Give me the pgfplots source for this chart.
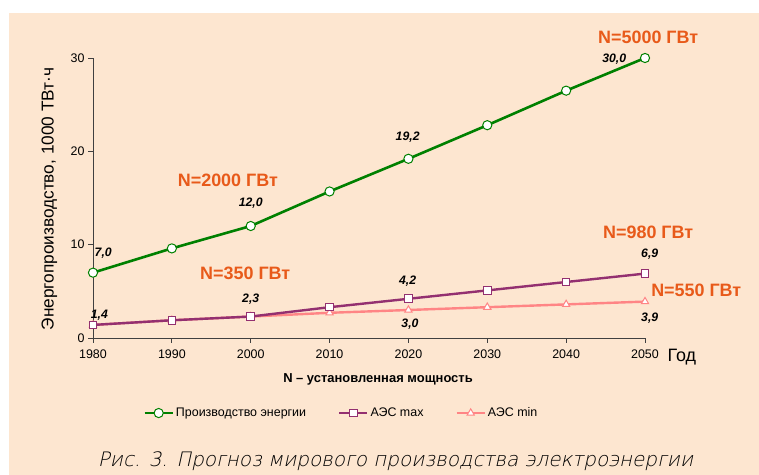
\documentclass[border=0pt]{standalone}
\usepackage{pgfplots}
\pgfplotsset{compat=1.18}
\usepackage{fontspec}
\setmainfont{Liberation Sans}
\newfontfamily\capfont[FakeSlant=0.22]{DejaVu Sans ExtraLight}

\definecolor{bg}{HTML}{FDE6D0}
\definecolor{cgreen}{HTML}{008000}
\definecolor{cpurple}{HTML}{933070}
\definecolor{cpink}{HTML}{FF8585}
\definecolor{corange}{HTML}{E85A1A}

\begin{document}
\begin{tikzpicture}[
        lbl/.style={font=\fontsize{12.3}{14}\selectfont\bfseries\itshape},
        olbl/.style={font=\fontsize{18}{20}\selectfont\bfseries, text=corange},
    ]
    \fill[white] (0,0) rectangle (759bp,475bp);
    \fill[bg] (9bp,0) rectangle (759bp,462bp);
    \path[use as bounding box] (0,0) rectangle (759bp,475bp);
    \begin{axis}[
            at={(93bp,137bp)}, anchor=south west,
            scale only axis,
            width=552bp, height=280bp,
            xmin=1980, xmax=2050,
            ymin=0, ymax=30,
            axis lines*=left,
            axis line style={draw=black!75, line width=0.9bp},
            tick style={draw=black!75, line width=0.8bp},
            tick align=outside,
            major tick length=5bp,
            xtick={1980,1990,...,2050},
            ytick={0,10,20,30},
            /pgf/number format/1000 sep={},
            /pgf/number format/assume math mode=true,
            tick label style={font=\fontsize{12.5}{14}\selectfont},
            x tick label style={yshift=-3bp},
            clip=false,
            legend columns=3,
            legend style={
                at={(0.45,-0.268)}, anchor=center,
                draw=none, fill=none,
                font=\fontsize{12.5}{14}\selectfont,
                /tikz/every even column/.append style={column sep=30bp},
            },
            legend image code/.code={
                \draw[mark repeat=2,mark phase=2,#1]
                plot coordinates {(0bp,0bp) (14bp,0bp) (28bp,0bp)};
            },
        ]
        \addplot[cgreen, line width=2.6bp, mark=*, mark size=4.6bp,
            mark options={fill=white, draw=cgreen, line width=1bp}] coordinates {
                (1980,7.0) (1990,9.6) (2000,12.0) (2010,15.7)
                (2020,19.2) (2030,22.8) (2040,26.5) (2050,30.0)
            };
        \addlegendentry{Производство энергии}
        \addplot[cpink, line width=2.4bp, mark=triangle*, mark size=4.2bp,
            mark options={fill=white, draw=cpink, line width=1bp}, forget plot] coordinates {
                (1980,1.4) (1990,1.9) (2000,2.3) (2010,2.7)
                (2020,3.0) (2030,3.3) (2040,3.6) (2050,3.9)
            };
        \addplot[cpurple, line width=2.4bp, mark=square*, mark size=3.8bp,
            mark options={fill=white, draw=cpurple, line width=1bp}] coordinates {
                (1980,1.4) (1990,1.9) (2000,2.3) (2010,3.3)
                (2020,4.2) (2030,5.1) (2040,6.0) (2050,6.9)
            };
        \addlegendentry{АЭС max}
        \addlegendimage{cpink, line width=2.4bp, mark=triangle*, mark size=4.2bp,
            mark options={fill=white, draw=cpink, line width=1bp}}
        \addlegendentry{АЭС min}

        \node[lbl] at (axis cs:1981.3,9.1) {7,0};
        \node[lbl] at (axis cs:1980.8,2.46) {1,4};
        \node[lbl] at (axis cs:2000,4.18) {2,3};
        \node[lbl] at (axis cs:2000,14.46) {12,0};
        \node[lbl] at (axis cs:2019.9,21.5) {19,2};
        \node[lbl] at (axis cs:2046.1,29.9) {30,0};
        \node[lbl] at (axis cs:2019.9,6.1) {4,2};
        \node[lbl] at (axis cs:2020.2,1.5) {3,0};
        \node[lbl] at (axis cs:2050.6,9.0) {6,9};
        \node[lbl] at (axis cs:2050.6,2.14) {3,9};

        \node[olbl] at (axis cs:2050.4,32.25) {N=5000 ГВт};
        \node[olbl] at (axis cs:1997.1,16.9) {N=2000 ГВт};
        \node[olbl] at (axis cs:1999.3,6.96) {N=350 ГВт};
        \node[olbl] at (axis cs:2050.4,11.36) {N=980 ГВт};
        \node[olbl] at (axis cs:2056.5,5.14) {N=550 ГВт};
    \end{axis}
    \node[rotate=90, font=\fontsize{17.3}{19}\selectfont] at (49.5bp,276bp) {Энергопроизводство, 1000 ТВт·ч};
    \node[anchor=west, font=\fontsize{18}{20}\selectfont] at (664bp,118bp) {Год};
    \node[font=\fontsize{13}{15}\selectfont\bfseries] at (378bp,96bp) {N – установленная мощность};
    \node[font=\fontsize{20}{24}\capfont] at (395.5bp,14bp) {Рис. 3. Прогноз мирового производства электроэнергии};
\end{tikzpicture}
\end{document}
